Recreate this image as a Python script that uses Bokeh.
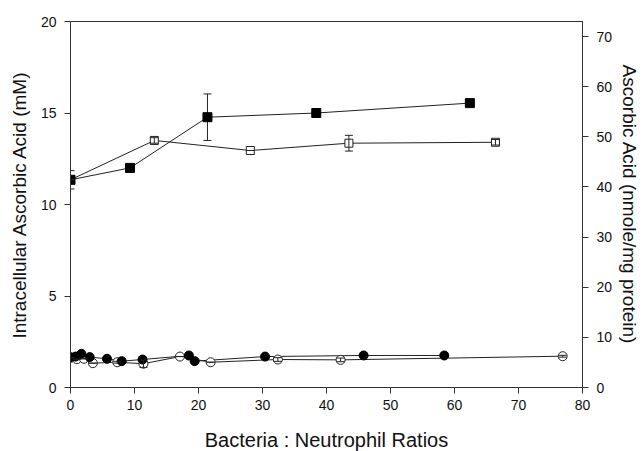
from bokeh.plotting import figure
from bokeh.models import Range1d, LinearAxis, FixedTicker, ColumnDataSource, Whisker, TeeHead
from bokeh.embed import file_html
from bokeh.resources import INLINE

# ---- data ----
x_ticks = [0, 10, 20, 30, 40, 50, 60, 70, 80]
y_ticks = [0, 5, 10, 15, 20]
y2_ticks = [0, 10, 20, 30, 40, 50, 60, 70]

filled_sq_x = [0, 9.3, 21.4, 38.4, 62.4]
filled_sq_y = [11.35, 12.0, 14.77, 15.0, 15.54]
filled_sq_err = [0.5, 0.2, 1.27, 0.1, 0.1]

open_sq_x = [0, 13.1, 28.1, 43.5, 66.4]
open_sq_y = [11.35, 13.5, 12.95, 13.35, 13.4]
open_sq_err = [0.0, 0.15, 0.0, 0.43, 0.15]

filled_circ_x = [0, 0.8, 1.7, 3.0, 5.7, 8.0, 11.25, 18.5, 19.4, 30.4, 45.8, 58.4]
filled_circ_y = [1.66, 1.69, 1.84, 1.66, 1.57, 1.44, 1.53, 1.75, 1.44, 1.69, 1.75, 1.75]

open_circ_x = [0, 1.0, 2.1, 3.5, 7.3, 11.4, 17.1, 21.9, 32.4, 42.2, 76.9]
open_circ_y = [1.62, 1.55, 1.57, 1.33, 1.38, 1.3, 1.69, 1.38, 1.53, 1.51, 1.71]
open_circ_err = [0, 0, 0, 0, 0.05, 0.2, 0, 0, 0.1, 0.1, 0.05]

FONT = "Liberation Sans"
AX = "#333333"
LC = "#222222"

p = figure(frame_width=512, frame_height=366,
           x_range=Range1d(0, 80), y_range=Range1d(0, 20),
           output_backend="svg", toolbar_location=None,
           min_border_left=70, min_border_right=56, min_border_top=21, min_border_bottom=62,
           background_fill_color="white", border_fill_color="white")
p.extra_y_ranges = {"right": Range1d(0, 73)}
p.grid.visible = False
p.outline_line_color = AX
p.outline_line_width = 1

def style_axis(ax, ticks):
    ax.ticker = FixedTicker(ticks=ticks)
    ax.minor_tick_line_color = None
    ax.major_tick_in = 0
    ax.major_tick_out = 6
    ax.axis_line_color = AX
    ax.major_tick_line_color = AX
    ax.major_label_text_font = FONT
    ax.major_label_text_font_size = "14px"
    ax.major_label_text_color = "#111111"
    ax.axis_label_text_font = FONT
    ax.axis_label_text_font_size = "19px"
    ax.axis_label_text_font_style = "normal"
    ax.axis_label_text_color = "#111111"

style_axis(p.xaxis[0], x_ticks)
p.xaxis[0].axis_label = "Bacteria : Neutrophil Ratios"
p.xaxis[0].axis_label_text_font_size = "20px"
p.xaxis[0].major_label_standoff = 6
p.xaxis[0].axis_label_standoff = 16

style_axis(p.yaxis[0], y_ticks)
p.yaxis[0].axis_label = "Intracellular Ascorbic Acid (mM)"
p.yaxis[0].major_label_standoff = 8
p.yaxis[0].axis_label_standoff = 8

ax2 = LinearAxis(y_range_name="right")
style_axis(ax2, y2_ticks)
ax2.axis_label = "Ascorbic Acid (nmole/mg protein)"
ax2.major_label_standoff = 8
ax2.axis_label_standoff = 4
p.add_layout(ax2, "right")

def errsrc(x, y, e):
    return ColumnDataSource(dict(x=x, lo=[a - b for a, b in zip(y, e)], hi=[a + b for a, b in zip(y, e)]))

# lines
p.line(filled_sq_x, filled_sq_y, line_color=LC, line_width=1)
p.line(open_sq_x, open_sq_y, line_color=LC, line_width=1)
p.line(filled_circ_x, filled_circ_y, line_color=LC, line_width=1)
p.line(open_circ_x, open_circ_y, line_color=LC, line_width=1)

def whisk(x, y, e, level):
    w = Whisker(source=errsrc(x, y, e), base="x", lower="lo", upper="hi",
                line_color=LC, line_width=1, level=level,
                upper_head=TeeHead(size=8, line_color=LC, line_width=1),
                lower_head=TeeHead(size=8, line_color=LC, line_width=1))
    p.add_layout(w)

whisk(filled_sq_x, filled_sq_y, filled_sq_err, "underlay")

# markers
p.scatter(open_circ_x, open_circ_y, marker="circle", size=9, fill_color="white", line_color=LC, line_width=1)
p.scatter(filled_circ_x, filled_circ_y, marker="circle", size=9, fill_color="black", line_color="black")
p.scatter(open_sq_x, open_sq_y, marker="square", size=8, fill_color="white", line_color=LC, line_width=1)
p.scatter(filled_sq_x, filled_sq_y, marker="square", size=9, fill_color="black", line_color="black")

whisk(open_sq_x, open_sq_y, open_sq_err, "overlay")
whisk(open_circ_x, open_circ_y, open_circ_err, "overlay")

open("out.html", "w").write(file_html(p, INLINE))
